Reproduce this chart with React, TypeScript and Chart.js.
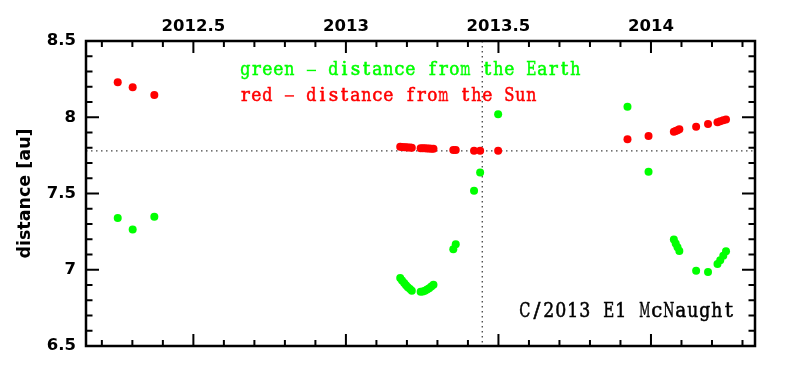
import React, { useEffect, useRef } from "react";
import { Chart, registerables } from "chart.js";

Chart.register(...registerables);

// ---- data ----
const GREEN_X = [
  2012.252, 2012.301, 2012.372,
  2013.178, 2013.184, 2013.191, 2013.197, 2013.203, 2013.21, 2013.216,
  2013.245, 2013.252, 2013.259, 2013.266, 2013.273, 2013.28, 2013.287,
  2013.352, 2013.36, 2013.42, 2013.44, 2013.499,
  2013.923, 2013.992,
  2014.075, 2014.081, 2014.087, 2014.093,
  2014.148, 2014.187,
  2014.218, 2014.227, 2014.237, 2014.246,
];
const GREEN_Y = [
  7.339, 7.264, 7.347,
  6.946, 6.93, 6.913, 6.898, 6.885, 6.873, 6.863,
  6.856, 6.858, 6.863, 6.87, 6.879, 6.89, 6.902,
  7.135, 7.168, 7.518, 7.638, 8.019,
  8.069, 7.642,
  7.198, 7.172, 7.147, 7.123,
  6.993, 6.986,
  7.037, 7.062, 7.092, 7.122,
];
const RED_X = GREEN_X;
const RED_Y = [
  8.229, 8.196, 8.146,
  7.806, 7.805, 7.804, 7.803, 7.802, 7.801, 7.8,
  7.797, 7.797, 7.796, 7.795, 7.795, 7.794, 7.793,
  7.786, 7.786, 7.781, 7.781, 7.781,
  7.855, 7.877,
  7.905, 7.91, 7.915, 7.921,
  7.938, 7.955,
  7.968, 7.974, 7.98, 7.986,
];
const X_TICKS = [2012.5, 2013, 2013.5, 2014];
const Y_TICKS = [6.5, 7, 7.5, 8, 8.5];
const X_RANGE = [2012.148, 2014.341];
const Y_RANGE = [6.5, 8.5];
const V_LINE = 2013.447;
const H_LINE = 7.779;
const LEGEND_LINES = ["green - distance from the Earth", "red - distance from the Sun"];
const LEGEND_COLORS = ["#00ff00", "#ff0000"];
const LABEL = "C/2013 E1 McNaught";
const Y_TITLE = "distance [au]";

const GREEN = "#00ff00";
const RED = "#ff0000";

function drawMonoSerif(ctx: any, text: string, x: number, y: number, size: number, adv: number, color: string) {
  ctx.save();
  ctx.font = `${size}px "DejaVu Serif"`;
  ctx.fillStyle = color;
  ctx.strokeStyle = color;
  ctx.lineWidth = 0.55;
  ctx.textBaseline = "alphabetic";
  ctx.textAlign = "center";
  for (let i = 0; i < text.length; i++) {
    const ch = text[i];
    if (ch === " ") continue;
    const cx = x + adv * (i + 0.5);
    const w = ctx.measureText(ch).width;
    const sx = Math.min(1, (adv * 0.92) / w);
    ctx.save();
    ctx.translate(cx, y);
    ctx.scale(sx, 1);
    if (ch === "-") {
      ctx.fillRect(-adv * 0.42 / sx, -size * 0.3, (adv * 0.84) / sx, size * 0.075);
    } else {
      ctx.fillText(ch, 0, 0);
      ctx.strokeText(ch, 0, 0);
    }
    ctx.restore();
  }
  ctx.restore();
}

const framePlugin = {
  id: "frameTicks",
  beforeDatasetsDraw(chart: any) {
    const { ctx, chartArea: a, scales } = chart;
    const x = scales.x.getPixelForValue(V_LINE);
    const y = scales.y.getPixelForValue(H_LINE);
    ctx.save();
    ctx.strokeStyle = "#444";
    ctx.lineWidth = 1.3;
    ctx.setLineDash([1.5, 3.5]);
    ctx.beginPath();
    ctx.moveTo(x, a.top);
    ctx.lineTo(x, a.bottom);
    ctx.moveTo(a.left, y);
    ctx.lineTo(a.right, y);
    ctx.stroke();
    ctx.restore();
  },
  afterDatasetsDraw(chart: any) {
    const { ctx, chartArea: a, scales } = chart;
    ctx.save();
    ctx.strokeStyle = "#000";
    ctx.lineWidth = 2;
    ctx.beginPath();
    const x0 = Math.ceil(X_RANGE[0] * 10 - 1e-6);
    const x1 = Math.floor(X_RANGE[1] * 10 + 1e-6);
    for (let i = x0; i <= x1; i++) {
      const px = scales.x.getPixelForValue(i / 10);
      const len = i % 5 === 0 ? 12 : 6;
      ctx.moveTo(px, a.top);
      ctx.lineTo(px, a.top + len);
      ctx.moveTo(px, a.bottom);
      ctx.lineTo(px, a.bottom - len);
    }
    const y0 = Math.round(Y_RANGE[0] * 10);
    const y1 = Math.round(Y_RANGE[1] * 10);
    for (let i = y0; i <= y1; i++) {
      const py = scales.y.getPixelForValue(i / 10);
      const len = i % 5 === 0 ? 13 : 6.5;
      ctx.moveTo(a.left, py);
      ctx.lineTo(a.left + len, py);
      ctx.moveTo(a.right, py);
      ctx.lineTo(a.right - len, py);
    }
    ctx.stroke();
    ctx.lineWidth = 2.5;
    ctx.strokeRect(a.left, a.top, a.right - a.left, a.bottom - a.top);
    ctx.restore();
  },
  afterDraw(chart: any) {
    const { ctx, scales } = chart;
    const lx = scales.x.getPixelForValue(2012.6525);
    drawMonoSerif(ctx, LEGEND_LINES[0], lx, scales.y.getPixelForValue(8.275), 18.5, 11.0, LEGEND_COLORS[0]);
    drawMonoSerif(ctx, LEGEND_LINES[1], lx, scales.y.getPixelForValue(8.108), 18.5, 11.0, LEGEND_COLORS[1]);
    drawMonoSerif(ctx, LABEL, scales.x.getPixelForValue(2013.567), scales.y.getPixelForValue(6.69), 20.5, 12.0, "#000");
  },
};

export default function App() {
  const ref = useRef<HTMLCanvasElement>(null);
  useEffect(() => {
    const chart = new Chart(ref.current!, {
      type: "scatter",
      data: {
        datasets: [
          {
            label: "Earth",
            data: GREEN_X.map((x, i) => ({ x, y: GREEN_Y[i] })),
            backgroundColor: GREEN,
            borderWidth: 0,
            pointRadius: 4,
          },
          {
            label: "Sun",
            data: RED_X.map((x, i) => ({ x, y: RED_Y[i] })),
            backgroundColor: RED,
            borderWidth: 0,
            pointRadius: 4,
          },
        ],
      },
      options: {
        responsive: false,
        animation: false,
        events: [],
        layout: { padding: { left: 0, top: 0, right: 40, bottom: 23 }, autoPadding: false },
        plugins: { legend: { display: false }, tooltip: { enabled: false } },
        scales: {
          x: {
            type: "linear",
            position: "top",
            min: X_RANGE[0],
            max: X_RANGE[1],
            grid: { display: false, drawTicks: false },
            border: { display: false },
            afterBuildTicks: (s: any) => {
              s.ticks = X_TICKS.map((v) => ({ value: v }));
            },
            afterFit: (s: any) => {
              s.height = 41;
            },
            ticks: {
              padding: 4,
              maxRotation: 0,
              autoSkip: false,
              color: "#000",
              font: { family: "DejaVu Sans", weight: "bold", size: 16.5 },
              callback: (v: any) => String(v),
            },
          },
          y: {
            type: "linear",
            min: Y_RANGE[0],
            max: Y_RANGE[1],
            grid: { display: false, drawTicks: false },
            border: { display: false },
            afterBuildTicks: (s: any) => {
              s.ticks = Y_TICKS.map((v) => ({ value: v }));
            },
            afterFit: (s: any) => {
              s.width = 86;
            },
            title: {
              display: true,
              text: Y_TITLE,
              color: "#000",
              font: { family: "DejaVu Sans", weight: "bold", size: 17.5 },
              padding: { top: 15, bottom: 0 },
            },
            ticks: {
              padding: 10,
              autoSkip: false,
              color: "#000",
              font: { family: "DejaVu Sans", weight: "bold", size: 16.5 },
              callback: (v: any) => String(v),
            },
          },
        },
      },
      plugins: [framePlugin],
    } as any);
    return () => chart.destroy();
  }, []);
  return (
    <div style={{ position: "absolute", left: 0, top: 0, width: 795, height: 369, background: "#fff" }}>
      <canvas ref={ref} width={795} height={369} style={{ display: "block" }} />
    </div>
  );
}
